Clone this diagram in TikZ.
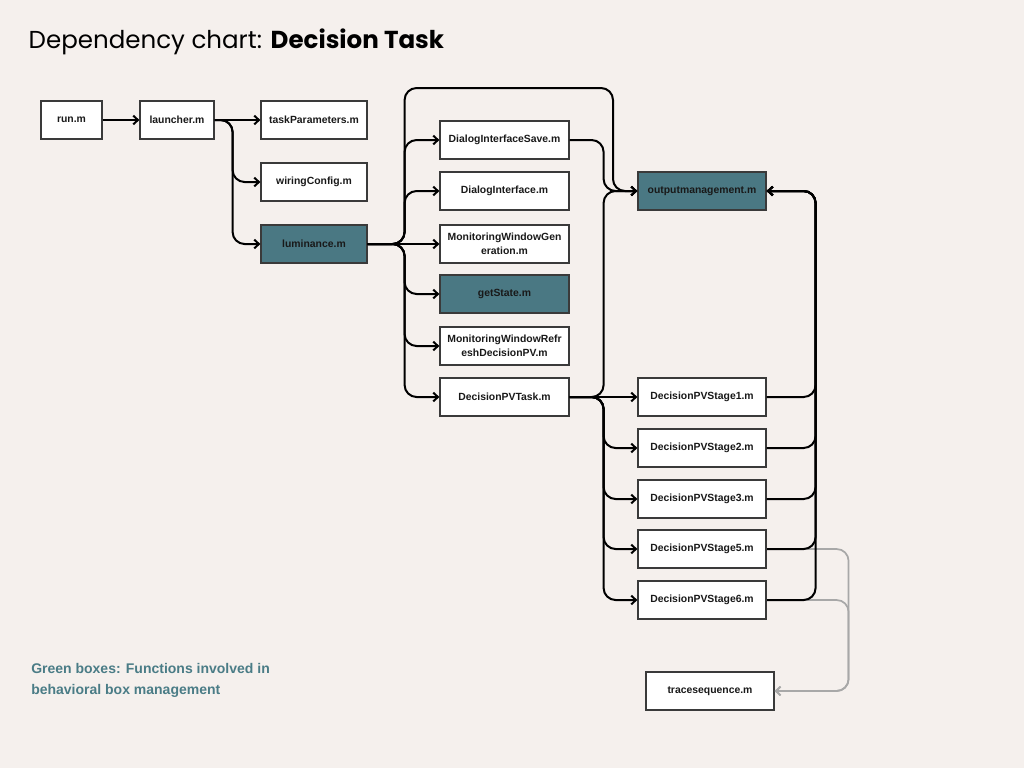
\documentclass[tikz,border=0pt]{standalone}
\usepackage{fontspec}
\setmainfont{Liberation Sans}
\newfontfamily\titlefont{Poppins}
\usetikzlibrary{arrows.meta}
\definecolor{bg}{HTML}{F5F0ED}
\definecolor{boxteal}{HTML}{4A7883}
\definecolor{legendteal}{HTML}{4A7C86}
\definecolor{boxline}{HTML}{3A3A3A}
\definecolor{grayline}{HTML}{A8A8A8}
\begin{document}
\begin{tikzpicture}[x=0.75pt,y=-0.75pt,
  box/.style={draw=boxline, line width=0.9pt, fill=white, minimum width=96.75pt,
    minimum height=28.5pt, inner sep=1pt, text=black!90, align=center,
    font=\fontsize{7.8}{10.2}\selectfont\bfseries},
  hl/.style={box, fill=boxteal},
  conn/.style={line width=1.5pt, rounded corners=9pt, -{Straight Barb[length=3.5pt,width=6.5pt]}},
  gconn/.style={conn, draw=grayline, line width=1.3pt}]
\fill[bg] (0,0) rectangle (1024,768);
\useasboundingbox (0,0) rectangle (1024,768);

\node[anchor=west, font=\titlefont\fontsize{18.4}{22}\selectfont] (title) at (24,42) {Dependency chart: \textbf{Decision Task}};

% left column
\node[box, minimum width=45.75pt] (run) at (71.5,120) {run.m};
\node[box, minimum width=55.5pt] (launcher) at (177,120) {launcher.m};
\node[box, minimum width=79.5pt] (taskp) at (314,120) {taskParameters.m};
\node[box, minimum width=79.5pt] (wiring) at (314,182) {wiringConfig.m};
\node[hl, minimum width=79.5pt] (lum) at (314,244) {luminance.m};

% middle column
\node[box] (dis) at (504.5,140) {DialogInterfaceSave.m};
\node[box] (di) at (504.5,191) {DialogInterface.m};
\node[box] (mwg) at (504.5,244) {MonitoringWindowGen\\eration.m};
\node[hl] (gs) at (504.5,294) {getState.m};
\node[box] (mwr) at (504.5,346) {MonitoringWindowRefr\\eshDecisionPV.m};
\node[box] (dpv) at (504.5,397) {DecisionPVTask.m};

% right column
\node[hl, minimum width=96pt] (outm) at (702,191) {outputmanagement.m};
\node[box, minimum width=96pt] (s1) at (702,397) {DecisionPVStage1.m};
\node[box, minimum width=96pt] (s2) at (702,448) {DecisionPVStage2.m};
\node[box, minimum width=96pt] (s3) at (702,499) {DecisionPVStage3.m};
\node[box, minimum width=96pt] (s5) at (702,549) {DecisionPVStage5.m};
\node[box, minimum width=96pt] (s6) at (702,600) {DecisionPVStage6.m};
\node[box, minimum width=96pt] (trace) at (710,691) {tracesequence.m};

% legend
\node[anchor=north west, align=left, text=legendteal, inner sep=0pt,
  font=\fontsize{10.5}{15.75}\selectfont\bfseries] (legend) at (31,663)
  {Green boxes: Functions involved in\\behavioral box management};

% connectors
\draw[conn] (run) -- (launcher);
\draw[conn] (launcher) -- (taskp);
\draw[conn] (launcher.east) -- ++(18,0) |- (wiring.west);
\draw[conn] (launcher.east) -- ++(18,0) |- (lum.west);

\foreach \t in {dis,di,gs,mwr,dpv}
  \draw[conn] (lum.east) -- ++(37,0) |- (\t.west);
\draw[conn] (lum) -- (mwg);
\draw[conn] (lum.east) -- ++(37,0) |- (613,88) |- (outm.west);

\draw[conn] (dis.east) -- ++(34,0) |- (outm.west);
\draw[conn] (dpv.east) -- ++(34,0) |- (outm.west);

\draw[conn] (dpv) -- (s1);
\foreach \t in {s2,s3,s5,s6}
  \draw[conn] (dpv.east) -- ++(34,0) |- (\t.west);

\draw[gconn] (s5.east) -- ++(82,0) |- (trace.east);
\draw[gconn] (s6.east) -- ++(82,0) |- (trace.east);

\foreach \t in {s1,s2,s3,s5,s6}
  \draw[conn] (\t.east) -- ++(49,0) |- (outm.east);
\end{tikzpicture}
\end{document}
